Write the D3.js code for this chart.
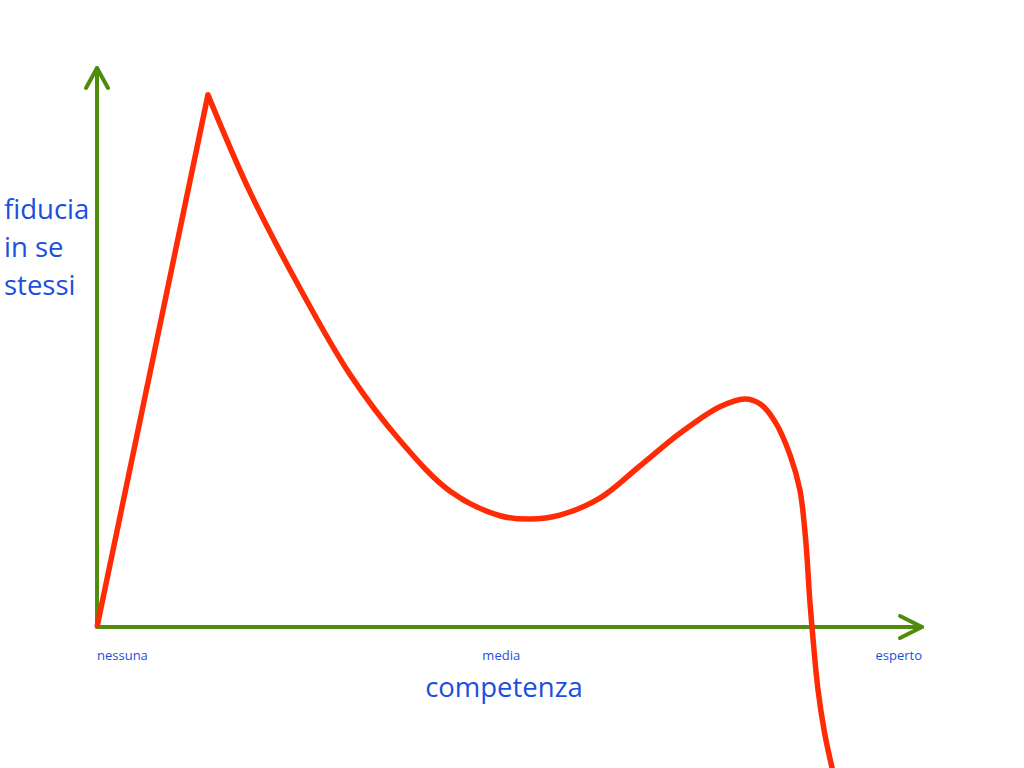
<!DOCTYPE html>
<html>
<head>
<meta charset="utf-8">
<script src="https://cdn.jsdelivr.net/npm/d3@7"></script>
<style>
  body { margin: 0; background: #fff; }
  text { font-family: "Open Sans", "Noto Sans", sans-serif; fill: #1b4fe0; }
</style>
</head>
<body>
<div id="chart"></div>
<script>
const width = 1024;
const height = 768;

// competence (0-100) vs confidence (0-100)
const riseX = [0, 13.45];
const riseY = [0, 95.2];
const curveX = [13.45, 18.55, 24.6, 30.7, 36.7, 42.8, 48.85, 52.5, 56.1, 61.0, 65.8, 70.7, 75.5, 78.55, 80.4, 82.2, 84.0, 85.2, 85.9, 86.4, 86.8, 87.4, 88.2, 89.1];
const curveY = [95.2, 77.8, 60.6, 45.1, 33.4, 24.3, 19.9, 19.3, 20.0, 23.1, 28.8, 34.7, 39.4, 40.8, 39.9, 36.7, 30.8, 24.5, 15.6, 4.8, -2.3, -11.3, -19.0, -25.2];

const tickLabels = ["nessuna", "media", "esperto"];
const tickPos = [0, 49, 100];
const yLabelLines = ["fiducia", "in se", "stessi"];
const xTitle = "competenza";

const x = d3.scaleLinear().domain([0, 100]).range([97, 922]);
const y = d3.scaleLinear().domain([0, 100]).range([627, 68]);

const svg = d3.select("#chart")
  .append("svg")
  .attr("width", width)
  .attr("height", height);

const green = "#4f8c0c";
const red = "#ff2b05";

// axes drawn as arrows
const axes = svg.append("g")
  .attr("fill", "none")
  .attr("stroke", green)
  .attr("stroke-width", 4)
  .attr("stroke-linecap", "round")
  .attr("stroke-linejoin", "round");

axes.append("line")
  .attr("x1", x(0)).attr("y1", y(0))
  .attr("x2", x(0)).attr("y2", y(100));
axes.append("path")
  .attr("d", `M${x(0) - 11},${y(100) + 20}L${x(0)},${y(100)}L${x(0) + 11},${y(100) + 20}`);

axes.append("line")
  .attr("x1", x(0)).attr("y1", y(0))
  .attr("x2", x(100)).attr("y2", y(0));
axes.append("path")
  .attr("d", `M${x(100) - 22},${y(0) - 11}L${x(100)},${y(0)}L${x(100) - 22},${y(0) + 11}`);

// the curve: a straight climb, then a smooth stroke
const line = d3.line().x(d => x(d[0])).y(d => y(d[1]));

svg.append("path")
  .datum(riseX.map((v, i) => [v, riseY[i]]))
  .attr("fill", "none")
  .attr("stroke", red)
  .attr("stroke-width", 5.5)
  .attr("d", line);

svg.append("path")
  .datum(curveX.map((v, i) => [v, curveY[i]]))
  .attr("fill", "none")
  .attr("stroke", red)
  .attr("stroke-width", 5.5)
  .attr("stroke-linecap", "round")
  .attr("d", line.curve(d3.curveCatmullRom.alpha(0.5)));

// tick labels
const anchors = ["start", "middle", "end"];
svg.append("g")
  .selectAll("text")
  .data(tickLabels)
  .join("text")
    .attr("x", (d, i) => x(tickPos[i]))
    .attr("y", 660)
    .attr("text-anchor", (d, i) => anchors[i])
    .attr("font-size", 13)
    .text(d => d);

svg.append("text")
  .attr("x", 504)
  .attr("y", 697)
  .attr("text-anchor", "middle")
  .attr("font-size", 27.5)
  .text(xTitle);

svg.append("g")
  .selectAll("text")
  .data(yLabelLines)
  .join("text")
    .attr("x", 4)
    .attr("y", (d, i) => 219 + i * 38)
    .attr("font-size", 27.5)
    .text(d => d);
</script>
</body>
</html>
